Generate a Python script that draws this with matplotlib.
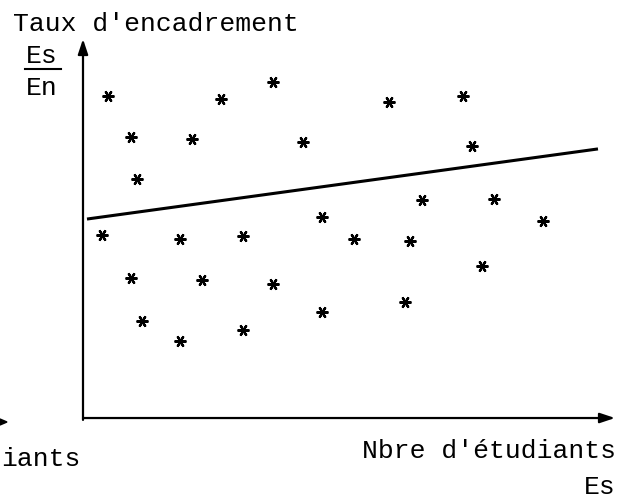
import matplotlib

matplotlib.use("Agg")
import matplotlib.pyplot as plt

# student count (Es) vs supervision ratio (Es/En), arbitrary units 0-100
nb_etudiants = [4.7, 9.0, 10.2, 20.5, 25.9, 35.7, 41.4, 57.5, 71.4, 73.1,
                3.6, 18.2, 30.1, 44.9, 50.9, 61.5, 63.7, 77.3, 86.5,
                9.0, 22.4, 35.7, 11.1, 18.2, 30.1, 44.9, 60.5, 75.0]
taux = [85.0, 74.1, 63.1, 73.6, 84.2, 88.7, 72.8, 83.4, 85.0, 71.8,
        48.3, 47.2, 48.0, 53.0, 47.2, 46.7, 57.5, 57.8, 52.0,
        36.9, 36.4, 35.4, 25.6, 20.3, 23.2, 28.0, 30.6, 40.1]

# trend line end points
trend_x = [0.75, 96.8]
trend_y = [52.5, 71.0]

MONO = "Liberation Mono"
FS = 19

fig = plt.figure(figsize=(6.36, 5.02), dpi=100)
fig.patch.set_facecolor("white")
ax = fig.add_axes([0.1305, 0.1653, 0.8365, 0.755])
ax.set_xlim(0, 100)
ax.set_ylim(0, 100)
for spine in ax.spines.values():
    spine.set_visible(False)
ax.set_xticks([])
ax.set_yticks([])

# axes drawn as arrows
arrow = dict(arrowstyle="-|>,head_length=0.9,head_width=0.3", color="black",
             lw=1.6, shrinkA=0, shrinkB=0)
ax.annotate("", xy=(0, 1.0), xytext=(0, -0.005), xycoords="axes fraction",
            arrowprops=arrow, annotation_clip=False)
ax.annotate("", xy=(1.0, 0), xytext=(0, 0), xycoords="axes fraction",
            arrowprops=arrow, annotation_clip=False)

ax.plot(trend_x, trend_y, color="black", lw=2.2, solid_capstyle="butt")
ax.plot(nb_etudiants, taux, linestyle="none", marker=(6, 2, 90),
        markersize=8.5, markeredgewidth=1.6, color="black")

# labels
fig.text(13 / 636, 1 - 31 / 502, "Taux d'encadrement", family=MONO,
         fontsize=FS, va="baseline", ha="left")
fig.text(42 / 636, 1 - 63 / 502, "Es", family=MONO, fontsize=FS,
         va="baseline", ha="center")
fig.add_artist(plt.Line2D([25 / 636, 61 / 636], [1 - 70 / 502, 1 - 70 / 502],
                          color="black", lw=1.5))
fig.text(42 / 636, 1 - 95 / 502, "En", family=MONO, fontsize=FS,
         va="baseline", ha="center")

fig.text(616 / 636, 1 - 458 / 502, "Nbre d'étudiants", family=MONO,
         fontsize=FS, va="baseline", ha="right")
fig.text(616 / 636, 1 - 494 / 502, "Es", family=MONO, fontsize=FS,
         va="baseline", ha="right")

# edge of the neighbouring figure
fig.text(1 / 636, 1 - 466 / 502, "iants", family=MONO, fontsize=FS,
         va="baseline", ha="left")
fig.add_artist(plt.Polygon([[0, 1 - 420 / 502], [7 / 636, 1 - 423 / 502],
                            [0, 1 - 426 / 502]], closed=True,
                           color="black", transform=fig.transFigure))

fig.savefig("out.png", dpi=100, facecolor="white")
